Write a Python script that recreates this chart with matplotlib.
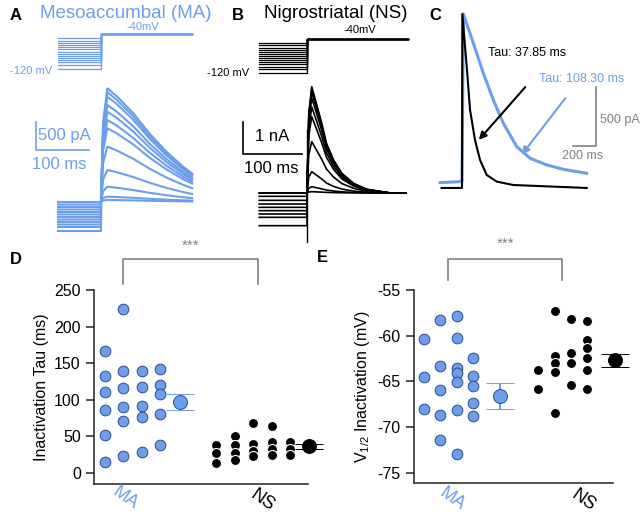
import matplotlib
matplotlib.use("Agg")
import matplotlib.pyplot as plt

plt.rcParams["font.family"] = ["Liberation Sans", "DejaVu Sans"]
plt.rcParams["mathtext.default"] = "regular"
plt.rcParams["axes.unicode_minus"] = False

MA_BLUE = "#6d9eeb"
MA_EDGE = "#2c4c86"
GRAY = "#808080"

# voltage protocol (mV), times in ms
prepulse_mv = [-120, -110, -105, -100, -95, -90, -85, -80, -75, -70, -65, -60, -55, -50]
test_mv = -40
pre_ms = -81
end_ms = 172

# A: mesoaccumbal currents (pA)
ma_shape_t = [0, 4, 12, 30, 61, 92, 124, 155, 172]
ma_shape = [0, 0.7, 1.0, 0.93, 0.78, 0.6, 0.44, 0.31, 0.25]
ma_peaks = [2030, 1960, 1880, 1732, 1613, 1465, 1316, 988, 571, 273, 95, 36]
ma_base = [0, -45, -89, -134, -179, -223, -268, -313, -357, -402, -446, -518]

# B: nigrostriatal currents (pA)
ns_shape_t = [0, 3, 8, 16, 25, 33, 45, 59, 79, 101, 141, 168]
ns_shape = [0, 0.75, 1.0, 0.84, 0.655, 0.467, 0.31, 0.185, 0.09, 0.035, 0.0, 0.0]
ns_peaks = [3322, 3250, 3150, 2969, 2688, 2385, 1603, 666, 197, 41]
ns_base = [0, 0, -104, -229, -344, -448, -552, -656, -760, -1021]
ns_artifact = [1970, -1530]

# C: example traces, normalised to the same peak
c_ns_t = [-177, -3, 0, 3, 41, 70, 113, 157, 215, 302, 446, 1085]
c_ns_pa = [0, 0, 0, 1474, 1028, 661, 407, 237, 110, 54, 25, 0]
c_ma_t = [-191, -3, 0, 12, 99, 186, 273, 360, 476, 592, 737, 882, 1085]
c_ma_pa = [45, 54, 54, 1474, 1226, 971, 745, 548, 350, 252, 195, 158, 124]

# D: inactivation tau (ms), one list per column of dots
ma_tau = [[166.8, 133, 111, 86, 52, 14.5], [224.5, 140, 116, 89.5, 70.5, 23],
          [140, 118, 92, 77, 29], [142, 120, 108, 81, 38]]
ns_tau = [[38, 28, 14], [50, 38, 28, 18], [69, 39, 30.5, 23], [64, 42, 33, 24], [42, 33, 25]]
ma_tau_mean, ma_tau_sem = 97.3, 10.8
ns_tau_mean, ns_tau_sem = 36.4, 3.5

# E: V1/2 inactivation (mV)
ma_v = [[-60.4, -64.5, -68.0], [-58.3, -63.3, -65.9, -68.7, -71.4],
        [-57.8, -60.2, -63.5, -64.1, -65.1, -68.1, -72.9], [-62.4, -64.4, -65.5, -67.3, -68.8]]
ns_v = [[-63.7, -65.8], [-57.3, -62.2, -63.0, -64.0, -68.4], [-58.2, -61.9, -63.0, -65.4],
        [-58.4, -60.5, -61.3, -62.4, -63.7, -65.8]]
ma_v_mean, ma_v_sem = -66.6, 1.4
ns_v_mean, ns_v_sem = -62.7, 0.75


def box(x0, y0, x1, y1):
    # pixel box (top-left origin) -> figure rect
    return [x0 / 640, 1 - y1 / 520, (x1 - x0) / 640, (y1 - y0) / 520]


def protocol(ax, color, xlim, ylim):
    for v in prepulse_mv:
        ax.plot([pre_ms, 0, 0, end_ms], [v, v, test_mv, test_mv], color=color, lw=0.9)
    ax.set_xlim(*xlim)
    ax.set_ylim(*ylim)
    ax.axis("off")


def traces(ax, color, shape_t, shape, peaks, base, lw):
    for pk, b in zip(peaks, base):
        ax.plot([pre_ms, 0] + shape_t, [b, b] + [pk * s for s in shape], color=color, lw=lw)


fig = plt.figure(figsize=(6.4, 5.2), dpi=100)

# ---- A
ax_av = fig.add_axes(box(20, 25, 200, 75))
protocol(ax_av, MA_BLUE, (-152.8, 186.8), (-133.7, -19.4))
ax_av.text(79, -24, "-40mV", color=MA_BLUE, fontsize=8, ha="center", va="center")
ax_av.text(-92, -124, "-120 mV", color=MA_BLUE, fontsize=8, ha="right", va="center")

ax_a = fig.add_axes(box(20, 80, 200, 240))
traces(ax_a, MA_BLUE, ma_shape_t, ma_shape, ma_peaks, ma_base, 1.5)
ax_a.plot([-122.6, -122.6, -22.6], [1429, 929, 929], color=MA_BLUE, lw=1.2)
ax_a.text(-119, 1179, "500 pA", color=MA_BLUE, fontsize=12, ha="left", va="center")
ax_a.text(-78, 661, "100 ms", color=MA_BLUE, fontsize=12, ha="center", va="center")
ax_a.set_xlim(-152.8, 186.8)
ax_a.set_ylim(-679, 2179)
ax_a.axis("off")

# ---- B
ax_bv = fig.add_axes(box(220, 25, 420, 80))
protocol(ax_bv, "black", (-147.5, 191.5), (-136.5, -7))
ax_bv.text(90, -19, "-40mV", color="black", fontsize=8, ha="center", va="center")
ax_bv.text(-98, -121, "-120 mV", color="black", fontsize=8, ha="right", va="center")

ax_b = fig.add_axes(box(220, 80, 420, 250))
traces(ax_b, "black", ns_shape_t, ns_shape, ns_peaks, ns_base, 1.2)
ax_b.plot([0, 0], ns_artifact, color="black", lw=1.0)
ax_b.plot([-108.5, -108.5, -8.5], [2219, 1219, 1219], color="black", lw=1.2)
ax_b.text(-59, 1750, "1 nA", fontsize=12, ha="center", va="center")
ax_b.text(-61, 781, "100 ms", fontsize=12, ha="center", va="center")
ax_b.set_xlim(-147.5, 191.5)
ax_b.set_ylim(-1781, 3531)
ax_b.axis("off")

# ---- C
ax_c = fig.add_axes(box(435, 5, 640, 200))
ax_c.plot(c_ma_t, c_ma_pa, color=MA_BLUE, lw=2.2)
ax_c.plot(c_ns_t, c_ns_pa, color="black", lw=1.5)
ax_c.plot([966, 1166, 1166], [356, 356, 855], color=GRAY, lw=1.2)
ax_c.text(1200, 576, "500 pA", color=GRAY, fontsize=9, ha="left", va="center")
ax_c.text(1053, 271, "200 ms", color=GRAY, fontsize=9, ha="center", va="center")
ax_c.text(566, 1143, "Tau: 37.85 ms", fontsize=9, ha="center", va="center")
ax_c.text(1044, 923, "Tau: 108.30 ms", color=MA_BLUE, fontsize=9, ha="center", va="center")
ax_c.annotate("", xy=(131, 390), xytext=(566, 872),
              arrowprops=dict(arrowstyle="-|>", color="black", lw=1.5, mutation_scale=11))
ax_c.annotate("", xy=(505, 263), xytext=(914, 779),
              arrowprops=dict(arrowstyle="-|>", color=MA_BLUE, lw=1.5, mutation_scale=11))
ax_c.set_xlim(-235, 1549)
ax_c.set_ylim(-102, 1550)
ax_c.axis("off")


def dot_panel(ax, ma_cols, ns_cols, ns_x0, ma_stats, ns_stats, mean_x):
    for i, col in enumerate(ma_cols):
        ax.plot([i] * len(col), col, "o", ms=7.7, mfc=MA_BLUE, mec=MA_EDGE, mew=0.7,
                clip_on=False, zorder=3)
    for i, col in enumerate(ns_cols):
        ax.plot([ns_x0 + i] * len(col), col, "o", ms=7.2, mfc="black", mec="white", mew=0.8,
                clip_on=False, zorder=3)
    for (m, s), x, fc, ec, bc in [(ma_stats, mean_x[0], MA_BLUE, MA_EDGE, MA_BLUE),
                                  (ns_stats, mean_x[1], "black", "black", "black")]:
        eb = ax.errorbar(x, m, yerr=s, fmt="o", ms=10, mfc=fc, mec=ec, mew=0.7, ecolor=bc,
                         elinewidth=1.5, capsize=10, capthick=1.5, zorder=4)
        for a in eb.get_children():
            a.set_clip_on(False)
    for side in ["top", "right"]:
        ax.spines[side].set_visible(False)
    for side in ["left", "bottom"]:
        ax.spines[side].set_color("#222222")
        ax.spines[side].set_linewidth(1.1)
    ax.tick_params(axis="y", length=6, width=1.1, colors="#222222", labelsize=11.5, labelcolor="black")
    ax.tick_params(axis="x", length=0, labelbottom=False)


def bracket(ax, x1, x2, y0, y1, ytxt):
    ax.plot([x1, x1, x2, x2], [y0, y1, y1, y0], color=GRAY, lw=1.2, clip_on=False)
    ax.text((x1 + x2) / 2, ytxt, "***", color=GRAY, fontsize=11, ha="center", va="center")


# ---- D
ax_d = fig.add_axes(box(94, 290, 308, 484))
dot_panel(ax_d, ma_tau, ns_tau, 6, (ma_tau_mean, ma_tau_sem), (ns_tau_mean, ns_tau_sem), (4.04, 11.0))
ax_d.set_xlim(-0.57, 10.95)
ax_d.set_ylim(-15, 250)
ax_d.set_yticks([0, 50, 100, 150, 200, 250])
ax_d.set_ylabel("Inactivation Tau (ms)", fontsize=11.5)
bracket(ax_d, 0.97, 8.27, 258, 292, 311)
ax_d.text(1.1, -0.075, "MA", transform=ax_d.get_xaxis_transform(), color=MA_BLUE, fontsize=13,
          rotation=-35, ha="center", va="center")
ax_d.text(8.5, -0.085, "NS", transform=ax_d.get_xaxis_transform(), color="black", fontsize=13,
          rotation=-35, ha="center", va="center")

# ---- E
ax_e = fig.add_axes(box(414, 290, 613, 483))
dot_panel(ax_e, ma_v, ns_v, 7, (ma_v_mean, ma_v_sem), (ns_v_mean, ns_v_sem), (4.63, 11.67))
ax_e.set_xlim(-0.61, 11.57)
ax_e.set_ylim(-76.1, -55)
ax_e.set_yticks([-75, -70, -65, -60, -55])
ax_e.set_ylabel("V$_{1/2}$ Inactivation (mV)", fontsize=11.5)
bracket(ax_e, 1.47, 8.47, -53.9, -51.6, -49.9)
ax_e.text(1.7, -0.085, "MA", transform=ax_e.get_xaxis_transform(), color=MA_BLUE, fontsize=13,
          rotation=-35, ha="center", va="center")
ax_e.text(9.75, -0.09, "NS", transform=ax_e.get_xaxis_transform(), color="black", fontsize=13,
          rotation=-35, ha="center", va="center")

# titles and panel letters
fig.text(126 / 640, 1 - 14 / 520, "Mesoaccumbal (MA)", color=MA_BLUE, fontsize=13.5, ha="center", va="center")
fig.text(336 / 640, 1 - 14 / 520, "Nigrostriatal (NS)", color="black", fontsize=13.5, ha="center", va="center")
for letter, x, y in [("A", 16, 16), ("B", 238, 16), ("C", 435, 15), ("D", 16, 260), ("E", 322, 258)]:
    fig.text(x / 640, 1 - y / 520, letter, fontsize=12, fontweight="bold", ha="center", va="center")

fig.savefig("out.png", dpi=100)
